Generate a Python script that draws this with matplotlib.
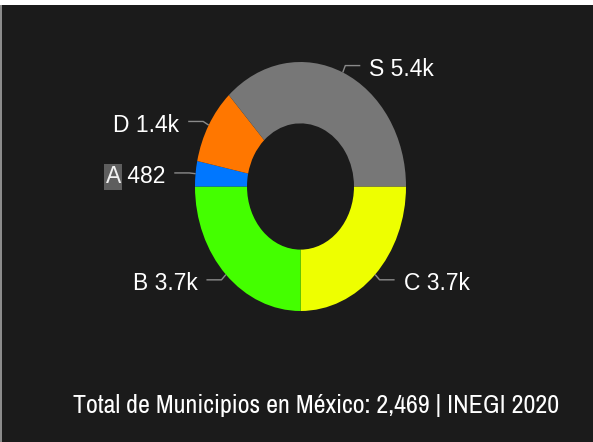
import numpy as np
import matplotlib
matplotlib.use('Agg')
import matplotlib.pyplot as plt
from matplotlib.patches import Rectangle
from matplotlib import font_manager as fm

# data, clockwise from 3 o'clock
labels = ['C', 'B', 'A', 'D', 'S']
values = [3660, 3660, 482, 1440, 5400]
shown = ['3.7k', '3.7k', '482', '1.4k', '5.4k']
colors = ['#eeff00', '#44ff00', '#0077ff', '#ff7700', '#777777']
footer = 'Total de Municipios en México: 2,469 | INEGI 2020'

W, H = 593, 442
bg = '#1b1b1b'
cx, cy = 300.5, 186.5          # donut centre, px from top-left
rx, ry = 105.5, 124.5          # outer radii in px

fig = plt.figure(figsize=(W / 100, H / 100), dpi=100, facecolor=bg)
ax = fig.add_axes([0, 0, 1, 1])
ax.set_facecolor(bg)

wedges, _ = ax.pie(values, colors=colors, startangle=0, counterclock=False,
                   radius=1.0, wedgeprops=dict(width=0.493, linewidth=0))
ax.set_aspect('auto')
ax.set_xlim(-cx / rx, (W - cx) / rx)
ax.set_ylim(-(H - cy) / ry, cy / ry)
ax.axis('off')

lab_font = dict(family='Liberation Sans', fontsize=16.5)
px_x, px_y = 1 / rx, 1 / ry
for w, lab, val in zip(wedges, labels, shown):
    mid = np.deg2rad((w.theta1 + w.theta2) / 2)
    c, s = np.cos(mid), np.sin(mid)
    side = 1 if c >= 0 else -1
    x1, y1 = 1.06 * c, 1.06 * s
    x2 = x1 + side * 15 * px_x
    ax.plot([c, x1, x2], [s, y1, y1], color='#8a8a8a', lw=1, solid_capstyle='butt')
    tx, ty = x2 + side * 9 * px_x, y1 - 4 * px_y
    ha = 'left' if side > 0 else 'right'
    if lab == 'A':
        t = ax.text(tx, ty, ' ' + val, color='white', ha=ha, va='center', **lab_font)
        fig.canvas.draw()
        bb = t.get_window_extent()
        ax.annotate(lab, xy=(bb.x0, (bb.y0 + bb.y1) / 2), xycoords='figure pixels',
                    color='#f0f0f0', ha='right', va='center',
                    bbox=dict(boxstyle='square,pad=0.05', fc='#5e5e5e', ec='none'),
                    **lab_font)
    else:
        ax.text(tx, ty, lab + ' ' + val, color='white', ha=ha, va='center', **lab_font)

# footer in a narrow face (Arial Narrow look), sized to the reference width
narrow = [f for f in fm.fontManager.ttflist
          if f.name in ('Archivo Narrow', 'PT Sans Narrow') and f.style == 'normal']
narrow.sort(key=lambda f: (f.name != 'Archivo Narrow', abs(int(f.weight) - 400)
                           if str(f.weight).isdigit() else 0))
fp = fm.FontProperties(fname=narrow[0].fname) if narrow else fm.FontProperties(family='Liberation Sans')
ft = fig.text(73 / W, 29 / H, footer, color='white', fontproperties=fp,
              ha='left', va='baseline')
ft.set_fontsize(19)
fig.canvas.draw()
wpx = ft.get_window_extent().width
ft.set_fontsize(19 * 487 / wpx)

# frame strips of the screenshot
fig.patches.append(Rectangle((0, 1 - 5 / H), 1, 5 / H, transform=fig.transFigure,
                             fc='white', ec='none'))
fig.patches.append(Rectangle((0, 0), 2 / W, 1 - 5 / H, transform=fig.transFigure,
                             fc='#8c8c8c', ec='none'))

fig.savefig('out.png', dpi=100, facecolor=bg)
